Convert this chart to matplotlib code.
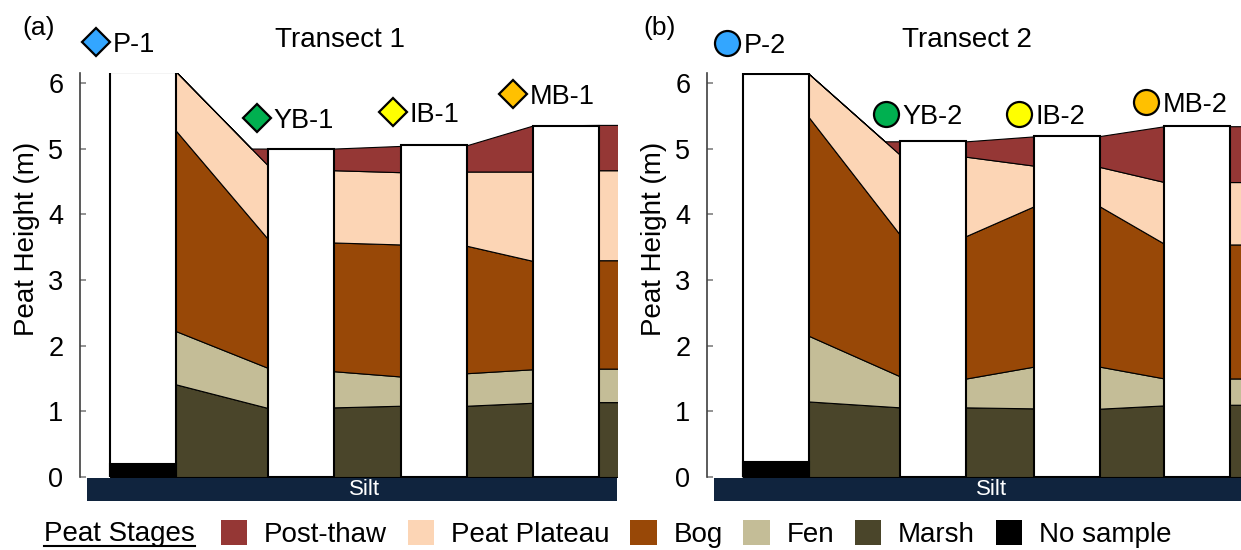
import numpy as np
import matplotlib
matplotlib.use('Agg')
import matplotlib.pyplot as plt
from matplotlib.patches import Patch, Rectangle
from matplotlib.lines import Line2D

plt.rcParams['font.family'] = ['Liberation Sans', 'DejaVu Sans']

# Estágios da turfa (legenda)
stages = ['Post-thaw', 'Peat Plateau', 'Bog', 'Fen', 'Marsh', 'No sample']
stage_colors = ['#953735', '#FCD5B5', '#984807', '#C4BD97', '#4A452A', '#000000']

cores_1 = ['P-1', 'YB-1', 'IB-1', 'MB-1']
cores_2 = ['P-2', 'YB-2', 'IB-2', 'MB-2']
core_colors = ['#33A6FF', '#00B050', '#FFFF00', '#FFC000']

# centro de cada testemunho ao longo do transecto (largura da barra = 1)
pos_1 = [0.955, 3.35, 5.36, 7.36]
pos_2 = [1.04, 3.43, 5.45, 7.43]
top_1 = [6.17, 5.00, 5.05, 5.35]
top_2 = [6.14, 5.11, 5.19, 5.34]
nosample_1 = 0.20
nosample_2 = 0.23

# topo de cada estágio nas bordas dos testemunhos:
# P dir, YB esq, YB dir, IB esq, IB dir, MB esq, MB dir
marsh_1 = [1.41, 1.05, 1.06, 1.085, 1.085, 1.13, 1.14]
fen_1 = [2.22, 1.66, 1.61, 1.53, 1.58, 1.64, 1.65]
bog_1 = [5.27, 3.62, 3.57, 3.54, 3.52, 3.29, 3.30]
plateau_1 = [6.17, 4.74, 4.67, 4.64, 4.65, 4.65, 4.67]
postthaw_1 = [6.17, 5.00, 5.00, 5.04, 5.05, 5.35, 5.36]

marsh_2 = [1.15, 1.06, 1.06, 1.045, 1.04, 1.09, 1.10]
fen_2 = [2.15, 1.53, 1.50, 1.68, 1.68, 1.50, 1.50]
bog_2 = [5.48, 3.68, 3.67, 4.12, 4.12, 3.55, 3.54]
plateau_2 = [6.14, 4.90, 4.875, 4.74, 4.72, 4.49, 4.49]
postthaw_2 = [6.14, 5.11, 5.11, 5.185, 5.19, 5.34, 5.34]

W = 1.0
XMAX = 537 / 66


def desenha_transecto(ax, pos, tops, nosample, layers, names, marker, mk_x, mk_y, titulo):
    # nós: bordas esquerda/direita de cada testemunho + um além do eixo
    edges = []
    for c in pos:
        edges += [c - W / 2, c + W / 2]
    xs = edges + [XMAX + 1]
    vals = [[v[0]] + list(v) + [v[-1]] for v in layers]

    # o pós-degelo só aparece onde o platô desce abaixo do topo do YB
    level = vals[4][2]
    p0, p1 = vals[3][1], vals[3][2]
    xc = xs[1] + (p0 - level) / (p0 - p1) * (xs[2] - xs[1])
    novos = []
    for i, v in enumerate(vals):
        vc = level if i == 4 else np.interp(xc, xs[1:3], v[1:3])
        novos.append(v[:2] + [vc] + v[2:])
    xs = xs[:2] + [xc] + xs[2:]
    vals = [np.array(v) for v in novos]

    cores_camadas = [stage_colors[4], stage_colors[3], stage_colors[2], stage_colors[1], stage_colors[0]]
    baixo = np.zeros(len(xs))
    for v, cor in zip(vals, cores_camadas):
        ax.fill_between(xs, baixo, v, facecolor=cor, edgecolor='black', linewidth=0.8, zorder=2)
        baixo = v

    ax.bar(pos, tops, width=W, color='white', edgecolor='black', linewidth=1.5, zorder=3)
    ax.bar(pos[0], nosample, width=W, color='black', edgecolor='black', linewidth=1.5, zorder=4)

    for x, y, nome, cor in zip(mk_x, mk_y, names, core_colors):
        ax.plot(x, y, marker=marker, ms=14 if marker == 'D' else 18, mfc=cor, mec='black',
                mew=1.6, clip_on=False, zorder=6)
        ax.annotate(nome, (x, y), xytext=(12, 0), textcoords='offset points', va='center_baseline',
                    ha='left', fontsize=19.5, annotation_clip=False)

    # camada de silte abaixo do eixo
    ax.add_patch(Rectangle((0.1, -0.37), XMAX - 0.1, 0.355, facecolor='#10243E', edgecolor='none',
                           clip_on=False, zorder=1))
    ax.text(0.529, -0.032, 'Silt', transform=ax.transAxes, color='white', fontsize=16,
            ha='center', va='center')
    ax.text(0.484, 1.082, titulo, transform=ax.transAxes, fontsize=20, ha='center', va='center')

    ax.set_xlim(0, XMAX)
    ax.set_ylim(0, 6.15)
    for s in ['top', 'right', 'bottom']:
        ax.spines[s].set_visible(False)
    ax.spines['left'].set_color('#404040')
    ax.spines['left'].set_linewidth(1.2)
    ax.set_xticks([])
    ax.set_yticks(range(7))
    ax.tick_params(axis='y', direction='in', length=4.5, width=1.2, color='#808080',
                   labelsize=19.5, pad=12)
    ax.set_ylabel('Peat Height (m)', fontsize=20)
    ax.yaxis.set_label_coords(-0.075, 0.589)


fig = plt.figure(figsize=(12.41, 5.5), dpi=100)
ax1 = fig.add_axes([80 / 1241, 1 - 477 / 550, 537 / 1241, 404 / 550])
ax2 = fig.add_axes([707 / 1241, 1 - 477 / 550, 537 / 1241, 404 / 550])

desenha_transecto(ax1, pos_1, top_1, nosample_1,
                  [marsh_1, fen_1, bog_1, plateau_1, postthaw_1], cores_1, 'D',
                  [0.25, 2.68, 4.74, 6.56], [6.62, 5.47, 5.56, 5.83], 'Transect 1')
desenha_transecto(ax2, pos_2, top_2, nosample_2,
                  [marsh_2, fen_2, bog_2, plateau_2, postthaw_2], cores_2, 'o',
                  [0.30, 2.71, 4.72, 6.65], [6.61, 5.53, 5.53, 5.71], 'Transect 2')

fig.text(39 / 1241, 1 - 28 / 550, '(a)', fontsize=19, ha='center', va='center')
fig.text(660 / 1241, 1 - 28 / 550, '(b)', fontsize=19, ha='center', va='center')

# legenda
handles = [Patch(facecolor=c, edgecolor='none') for c in stage_colors]
fig.legend(handles, stages, loc='center left', bbox_to_anchor=(221 / 1241, 1 - 534 / 550),
           ncol=6, frameon=False, fontsize=20, handlelength=0.95, handleheight=1.0,
           handletextpad=0.6, columnspacing=0.75, borderpad=0, borderaxespad=0)
t = fig.text(44 / 1241, 1 - 534 / 550, 'Peat Stages', fontsize=20, ha='left', va='center')
fig.canvas.draw()
bb = t.get_window_extent().transformed(fig.transFigure.inverted())
fig.add_artist(Line2D([bb.x0, bb.x1], [bb.y0 + 0.002, bb.y0 + 0.002], color='black', lw=1.5,
                      transform=fig.transFigure))

fig.savefig('out.png', dpi=100)
